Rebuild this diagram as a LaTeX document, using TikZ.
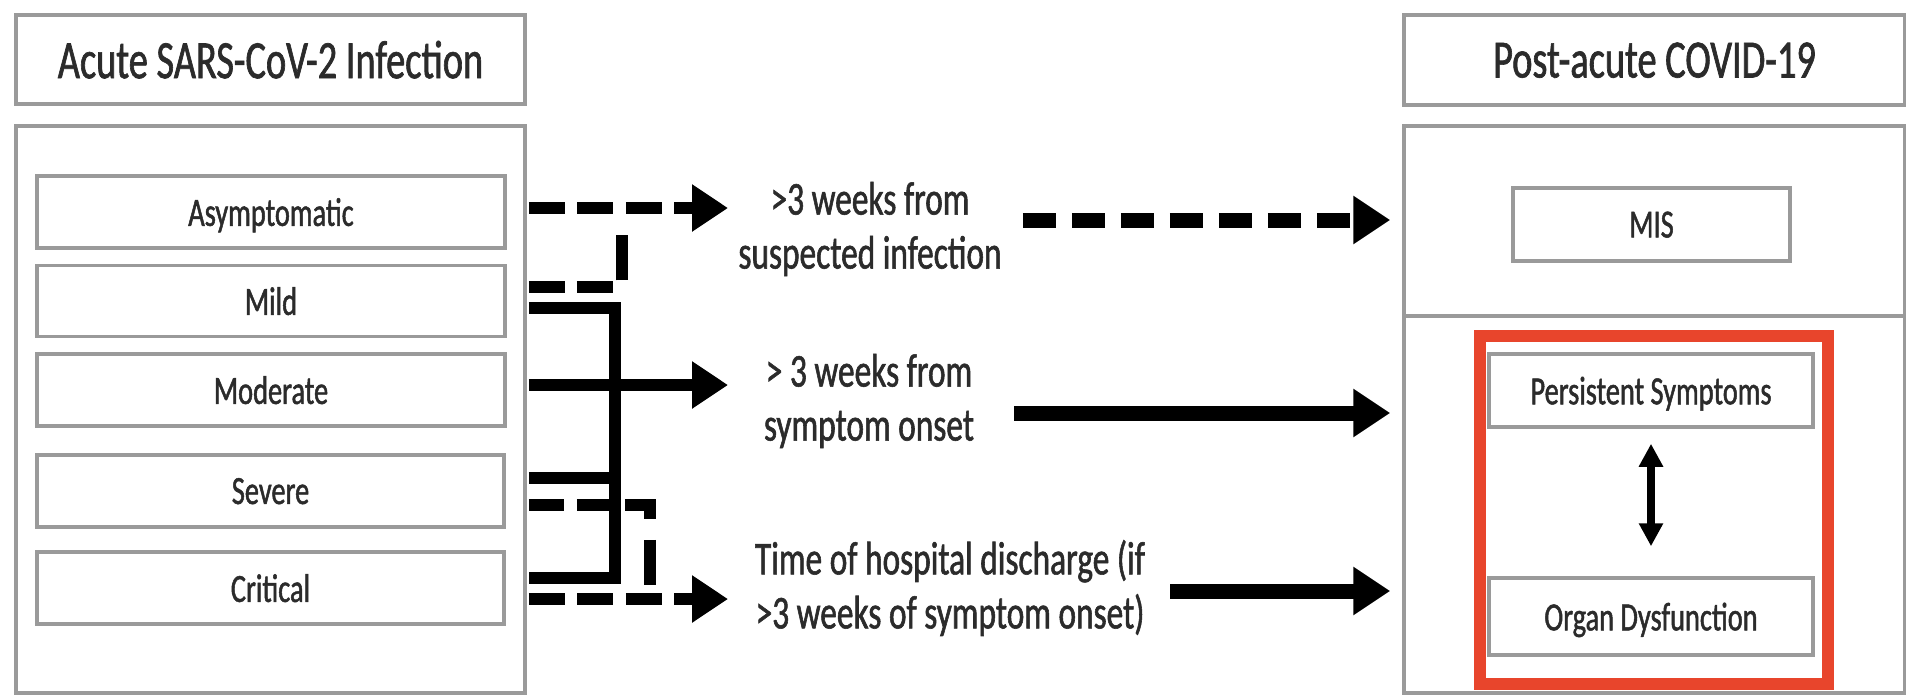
\documentclass[tikz,border=0pt]{standalone}
\usepackage{fontspec}
\setmainfont{Carlito}[FakeStretch=0.71,FakeBold=1.2]
\usetikzlibrary{arrows.meta}
\definecolor{boxgray}{HTML}{9A9A9A}
\definecolor{redbox}{HTML}{E8452C}
\definecolor{txt}{HTML}{2B2B2B}
\begin{document}
\begin{tikzpicture}[x=1pt,y=-1pt,
  box/.style={draw=boxgray, line width=3.5pt, fill=white, inner sep=0pt, text=txt},
  lbl/.style={font=\fontsize{40}{44}\selectfont, text depth=0pt},
  ttl/.style={font=\fontsize{54}{60}\selectfont, text depth=0pt},
  mid/.style={font=\fontsize{47}{54}\selectfont, align=center, text=txt, inner sep=0pt},
  sl/.style={line width=12pt, black, line join=miter},
  dl/.style={line width=12pt, black, dash pattern=on 36pt off 12.5pt, line join=miter},
  rsl/.style={line width=15pt, black},
  rdl/.style={line width=15pt, black, dash pattern=on 33pt off 16pt},
  tipL/.style={-{Triangle[length=36pt,width=45pt]}},
  tipR/.style={-{Triangle[length=37pt,width=46pt]}},
  dbl/.style={line width=8pt, black, {Triangle[length=23pt,width=23pt]}-{Triangle[length=23pt,width=23pt]}},
]
\fill[white] (0,0) rectangle (1906,694);
\useasboundingbox (0,0) rectangle (1906,694);

% left column
\node[box,ttl,minimum width=509pt,minimum height=89pt] (titleL) at (270.5,59.5) {Acute SARS-CoV-2 Infection};
\node[box,minimum width=509pt,minimum height=567pt] (outerL) at (270.5,409.5) {};
\node[box,lbl,minimum width=468pt,minimum height=72pt] (asym) at (271,212) {Asymptomatic};
\node[box,lbl,minimum width=468pt,minimum height=71pt] (mild) at (271,301) {Mild};
\node[box,lbl,minimum width=468pt,minimum height=72pt] (moder) at (271,390) {Moderate};
\node[box,lbl,minimum width=467pt,minimum height=72pt] (severe) at (270.5,491) {Severe};
\node[box,lbl,minimum width=467pt,minimum height=72pt] (crit) at (270.5,588) {Critical};

% right column
\node[box,ttl,minimum width=501pt,minimum height=90pt] (titleR) at (1654.5,60) {Post-acute COVID-19};
\node[box,minimum width=501pt,minimum height=567pt] (outerR) at (1654.5,409.5) {};
\draw[boxgray,line width=3.5pt] (outerR.west |- 0,316) -- (outerR.east |- 0,316);
\node[box,lbl,minimum width=277pt,minimum height=73pt] (mis) at (1651.5,224.5) {MIS};
\node[draw=redbox,line width=12pt,minimum width=348pt,minimum height=348pt,inner sep=0pt] (red) at (1654,510) {};
\node[box,lbl,minimum width=324pt,minimum height=73pt] (persist) at (1651,390.5) {Persistent Symptoms};
\node[box,lbl,minimum width=324pt,minimum height=77pt] (organ) at (1651,616.5) {Organ Dysfunction};
\draw[dbl,shorten <=15pt,shorten >=30pt] (persist.south) -- (organ.north);

% middle texts
\node[mid] (t1) at (870,229) {>3 weeks from\\suspected infection};
\node[mid] (t2) at (869,401) {> 3 weeks from\\symptom onset};
\node[mid] (t3) at (950,588) {Time of hospital discharge (if\\>3 weeks of symptom onset)};
\coordinate (tipcol) at (728,0);
\coordinate (joinS) at (615,0);
\coordinate (joinA) at (622,0);
\coordinate (joinC) at (650,0);

% left connectors: solid
\draw[sl] ([xshift=2pt]outerL.east |- 0,308) -- (joinS |- 0,308) -- (joinS |- 0,578) -- ([xshift=2pt]outerL.east |- 0,578);
\draw[sl] ([xshift=2pt]outerL.east |- 0,478) -- (joinS |- 0,478);
\draw[sl,tipL] ([xshift=2pt]outerL.east |- 0,385) -- (tipcol |- 0,385);
% left connectors: dashed
\draw[dl,tipL] ([xshift=2pt]outerL.east |- 0,208) -- (tipcol |- 0,208);
\draw[dl,dash pattern=on 36pt off 12pt on 36pt off 16pt on 45pt off 60pt] ([xshift=2pt]outerL.east |- 0,287) -- (joinA |- 0,287) -- (joinA |- 0,208);
\draw[dl,dash pattern=on 35pt off 13pt on 35pt off 13pt on 39pt off 21pt on 45pt off 60pt] ([xshift=2pt]outerL.east |- 0,505) -- (joinC |- 0,505) -- (joinC |- 0,599);
\draw[dl,tipL] ([xshift=2pt]outerL.east |- 0,599) -- (tipcol |- 0,599);

% right connectors
\draw[rdl,tipR] ([xshift=21pt]t1.east |- 0,220) -- ([xshift=-12pt]outerR.west |- 0,220);
\draw[rsl,tipR] ([xshift=40pt]t2.east |- 0,413) -- ([xshift=-12pt]outerR.west |- 0,413);
\draw[rsl,tipR] ([xshift=25pt]t3.east |- 0,591) -- ([xshift=-12pt]outerR.west |- 0,591);
\end{tikzpicture}
\end{document}
